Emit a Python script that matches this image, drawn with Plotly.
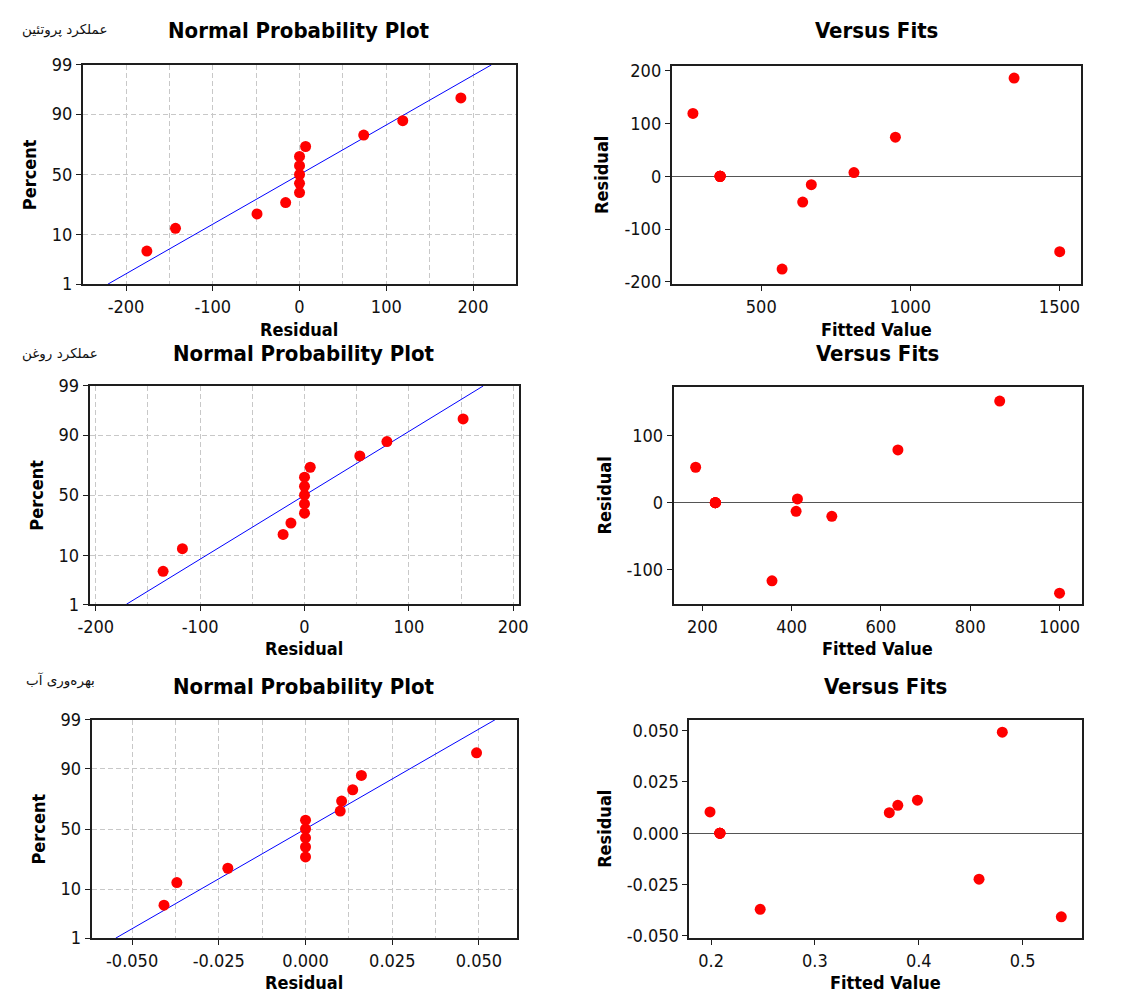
import plotly.graph_objects as go
from statistics import NormalDist, mean, stdev

# Residual diagnostics for three responses (13 runs each, five replicated centre points)
response_names = ["عملکرد پروتئین", "عملکرد روغن", "بهره‌وری آب"]

protein_fitted = [271, 362, 362, 362, 362, 362, 570, 639, 668, 811, 950, 1348, 1501]
protein_resid = [119, 0, 0, 0, 0, 0, -176, -49, -16, 7, 74, 186, -143]

oil_fitted = [185, 229, 229, 229, 229, 229, 356, 410, 413, 490, 638, 866, 1000]
oil_resid = [53, 0, 0, 0, 0, 0, -117, -13, 5.5, -20.5, 79, 152, -135.5]

water_fitted = [0.199, 0.2085, 0.2085, 0.2085, 0.2085, 0.2085, 0.2473,
                0.3716, 0.3798, 0.3987, 0.4580, 0.4804, 0.5372]
water_resid = [0.0104, 0, 0, 0, 0, 0, -0.0371, 0.0100, 0.0136, 0.0161,
               -0.0224, 0.0493, -0.0408]

percent_ticks = [1, 10, 50, 90, 99]
percent_labels = ["1", "10", "50", "90", "99"]

npp_resid_ticks = [
    [-200, -100, 0, 100, 200],
    [-200, -100, 0, 100, 200],
    [-0.05, -0.025, 0, 0.025, 0.05],
]
npp_resid_labels = [
    ["-200", "-100", "0", "100", "200"],
    ["-200", "-100", "0", "100", "200"],
    ["-0.050", "-0.025", "0.000", "0.025", "0.050"],
]
npp_grid_step = [50, 50, 0.0125]

fit_x_ticks = [[500, 1000, 1500], [200, 400, 600, 800, 1000], [0.2, 0.3, 0.4, 0.5]]
fit_x_labels = [["500", "1000", "1500"], ["200", "400", "600", "800", "1000"],
                ["0.2", "0.3", "0.4", "0.5"]]
fit_y_ticks = [[-200, -100, 0, 100, 200], [-100, 0, 100], [-0.05, -0.025, 0, 0.025, 0.05]]
fit_y_labels = [["-200", "-100", "0", "100", "200"], ["-100", "0", "100"],
                ["-0.050", "-0.025", "0.000", "0.025", "0.050"]]

fitted_sets = [protein_fitted, oil_fitted, water_fitted]
resid_sets = [protein_resid, oil_resid, water_resid]

W, H = 1137, 1003
z = NormalDist().inv_cdf

# panel boxes in pixels: (x0, x1, y0, y1)
npp_boxes = [(72, 513, 55, 279), (79, 517, 383, 606), (81, 515, 724, 947)]
fit_boxes = [(672, 1089, 56, 279), (674, 1090, 384, 606), (690, 1090, 724, 947)]
npp_xrange = [[-250, 249], [-206, 206], [-0.0617, 0.0611]]
fit_xrange = [[199.4, 1572], [135.5, 1050], [0.179, 0.557]]
fit_yrange = [[-204.5, 209.3], [-152.2, 173.2], [-0.0512, 0.0553]]

title_y = [20, 350, 690]
xtitle_y = [325, 651, 992]
npp_ytitle_x = [18, 25, 27]
fit_ytitle_x = [601, 604, 603]
label_pos = [(8, 19), (8, 350), (12, 684)]

FONT = "DejaVu Sans Condensed"
INK = "#111111"
FRAME = "#1e1e1e"


def xdom(b):
    return [b[0] / W, b[1] / W]


def ydom(b):
    return [1 - b[3] / H, 1 - b[2] / H]


fig = go.Figure()
annotations = []


def axis_common():
    return dict(
        showline=True, mirror=True, linecolor=FRAME, linewidth=1.6,
        ticks="outside", ticklen=5, tickwidth=1, tickcolor=FRAME,
        tickfont=dict(family=FONT, size=18, color=INK),
        zeroline=False, tickmode="array",
    )


GRID = dict(gridcolor="#c8c8c8", gridwidth=1, griddash="5px,3px")

for r in range(3):
    res = resid_sets[r]
    fit = fitted_sets[r]
    n = len(res)
    srt = sorted(res)
    pct = [(i + 1 - 0.3) / (n + 0.4) * 100 for i in range(n)]
    zs = [z(p / 100) for p in pct]
    mu, sd = mean(res), stdev(res)
    z_lo, z_hi = z(0.01), z(0.99)

    ax_n = 2 * r + 1
    ax_f = 2 * r + 2
    xn = "x" if ax_n == 1 else f"x{ax_n}"
    yn = "y" if ax_n == 1 else f"y{ax_n}"
    xf, yf = f"x{ax_f}", f"y{ax_f}"

    # normal probability plot: fitted normal line and ordered residuals
    fig.add_trace(go.Scatter(
        x=[mu + sd * z_lo, mu + sd * z_hi], y=[z_lo, z_hi], mode="lines",
        line=dict(color="#0000ff", width=1), xaxis=xn, yaxis=yn,
        showlegend=False, hoverinfo="skip"))
    fig.add_trace(go.Scatter(
        x=srt, y=zs, mode="markers", marker=dict(color="#ff0000", size=11),
        xaxis=xn, yaxis=yn, showlegend=False, customdata=pct,
        hovertemplate="Residual %{x}<br>Percent %{customdata:.1f}<extra></extra>"))

    # residuals versus fitted values
    fig.add_trace(go.Scatter(
        x=fit, y=res, mode="markers", marker=dict(color="#ff0000", size=11),
        xaxis=xf, yaxis=yf, showlegend=False))

    b = npp_boxes[r]
    step = npp_grid_step[r]
    lo, hi = npp_xrange[r]
    k0 = int(lo // step) + 1
    k1 = int(hi // step)
    minor_vals = [k * step for k in range(k0, k1 + 1)]

    xa = axis_common()
    xa.update(domain=xdom(b), range=npp_xrange[r], anchor=yn,
              tickvals=npp_resid_ticks[r], ticktext=npp_resid_labels[r],
              showgrid=False,
              minor=dict(tickmode="array", tickvals=minor_vals, ticks="",
                         showgrid=True, **GRID))
    ya = axis_common()
    ya.update(domain=ydom(b), range=[z_lo, z_hi], anchor=xn,
              tickvals=[z(p / 100) for p in percent_ticks], ticktext=percent_labels,
              showgrid=True, **GRID)
    fig.layout[("xaxis" if ax_n == 1 else f"xaxis{ax_n}")] = xa
    fig.layout[("yaxis" if ax_n == 1 else f"yaxis{ax_n}")] = ya

    bf = fit_boxes[r]
    xa2 = axis_common()
    xa2.update(domain=xdom(bf), range=fit_xrange[r], anchor=yf,
               tickvals=fit_x_ticks[r], ticktext=fit_x_labels[r], showgrid=False)
    ya2 = axis_common()
    ya2.update(domain=ydom(bf), range=fit_yrange[r], anchor=xf,
               tickvals=fit_y_ticks[r], ticktext=fit_y_labels[r], showgrid=False,
               zeroline=True, zerolinecolor="#555555", zerolinewidth=1.2)
    fig.layout[f"xaxis{ax_f}"] = xa2
    fig.layout[f"yaxis{ax_f}"] = ya2

    # panel titles
    for bb, txt in ((b, "Normal Probability Plot"), (bf, "Versus Fits")):
        annotations.append(dict(
            text=f"<b>{txt}</b>", x=(bb[0] + bb[1]) / 2 / W, y=1 - title_y[r] / H,
            xref="paper", yref="paper", showarrow=False, xanchor="center",
            yanchor="middle", font=dict(family=FONT, size=22, color="#000000")))
    # axis titles
    annotations.append(dict(
        text="<b>Residual</b>", x=(b[0] + b[1]) / 2 / W, y=1 - xtitle_y[r] / H,
        xref="paper", yref="paper", showarrow=False, xanchor="center",
        yanchor="middle", font=dict(family=FONT, size=18, color="#000000")))
    annotations.append(dict(
        text="<b>Fitted Value</b>", x=(bf[0] + bf[1]) / 2 / W, y=1 - xtitle_y[r] / H,
        xref="paper", yref="paper", showarrow=False, xanchor="center",
        yanchor="middle", font=dict(family=FONT, size=18, color="#000000")))
    annotations.append(dict(
        text="<b>Percent</b>", x=npp_ytitle_x[r] / W, y=1 - (b[2] + b[3]) / 2 / H,
        xref="paper", yref="paper", showarrow=False, textangle=-90,
        xanchor="center", yanchor="middle",
        font=dict(family=FONT, size=18, color="#000000")))
    annotations.append(dict(
        text="<b>Residual</b>", x=fit_ytitle_x[r] / W, y=1 - (bf[2] + bf[3]) / 2 / H,
        xref="paper", yref="paper", showarrow=False, textangle=-90,
        xanchor="center", yanchor="middle",
        font=dict(family=FONT, size=18, color="#000000")))
    # response name
    lx, ly = label_pos[r]
    annotations.append(dict(
        text=response_names[r], x=lx / W, y=1 - ly / H, xref="paper", yref="paper",
        showarrow=False, xanchor="left", yanchor="middle",
        font=dict(family="DejaVu Sans", size=13.5, color="#111111")))

fig.update_layout(
    width=W, height=H, margin=dict(l=0, r=0, t=0, b=0),
    paper_bgcolor="white", plot_bgcolor="white",
    annotations=annotations, showlegend=False,
)

# the page body carries a default margin; drop it so the figure fills the window
fig.write_html(
    "out.html",
    post_script="document.body.style.margin='0';document.body.style.overflow='hidden';",
)
